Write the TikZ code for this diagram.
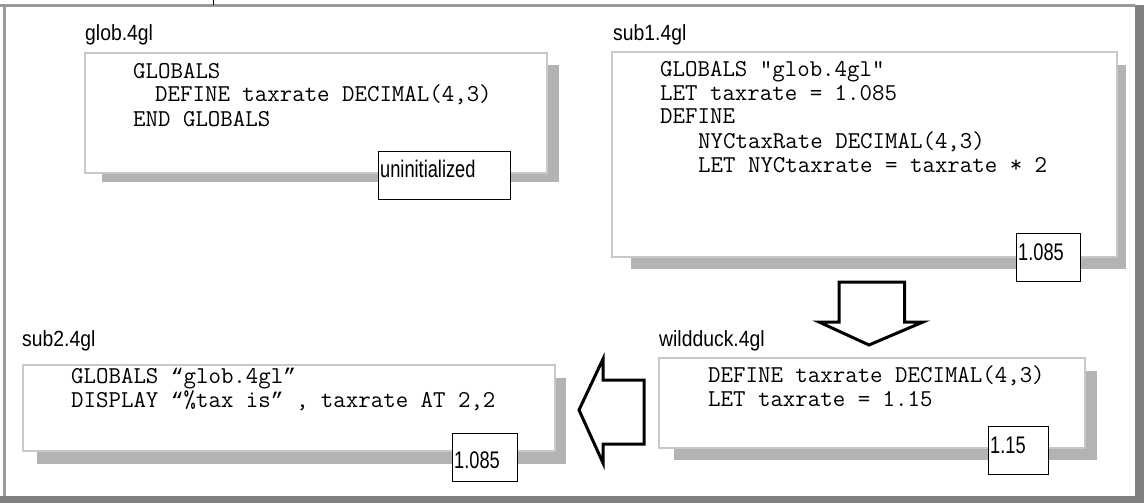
\documentclass[tikz,border=0pt]{standalone}
\usepackage{fontspec}
\newfontfamily\labfont[FakeStretch=0.88]{Liberation Sans}
\newfontfamily\valfont[FakeStretch=0.76]{Liberation Sans}
\newfontfamily\quotefont{Liberation Mono}
\newcommand\myoq{{\quotefont\fontsize{21.2}{24}\selectfont “}}
\newcommand\mycq{{\quotefont\fontsize{21.2}{24}\selectfont ”}}
\definecolor{shadowgray}{HTML}{B3B3B3}
\definecolor{boxgray}{HTML}{C8C8C8}
\definecolor{framegray}{HTML}{808080}
\definecolor{framelight}{HTML}{9A9A9A}
\begin{document}
\begin{tikzpicture}[x=1pt,y=-1pt,
 shadowrect/.style={fill=shadowgray,draw=none},
 filebox/.style={draw=boxgray,line width=1.5pt,fill=white},
 valbox/.style={draw=black,line width=1.2pt,fill=white,inner sep=0pt,anchor=north west},
 codetxt/.style={anchor=base west,inner sep=0pt,font=\ttfamily\fontsize{24.2}{24}\selectfont},
 labtxt/.style={anchor=base west,inner sep=0pt,font=\labfont\fontsize{22}{26}\selectfont},
 valtxt/.style={anchor=base west,inner sep=0pt,font=\valfont\fontsize{24}{28}\selectfont},
 blockarrow/.style={draw=black,line width=3pt,fill=white,line join=miter}]
\useasboundingbox (0,0) rectangle (1144,503);
% outer frame
\fill[framegray] (1135,5) rectangle (1144,503);
\fill[framegray] (0,496) rectangle (1144,503);
\draw[framelight,line width=2.5pt] (0,5.5) -- (1135,5.5);
\draw[framelight,line width=2.5pt] (4.5,5.5) -- (4.5,496);
\draw[black,line width=0.8pt] (213,0) -- (213,5);

% glob.4gl
\node[labtxt] (globlab) at (85,41) {glob.4gl};
\fill[shadowrect] (102,65) rectangle (559,182);
\draw[filebox] (85,53) rectangle (547,173);
\node[codetxt] (g1) at (133,78) {GLOBALS};
\node[codetxt] (g2) at (155,102) {DEFINE taxrate DECIMAL(4,3)};
\node[codetxt] (g3) at (133,126) {END GLOBALS};
\node[valbox,minimum width=132pt,minimum height=48pt] (gv) at (378,151) {};
\node[valtxt] (gvt) at (380,177) {uninitialized};

% sub1.4gl
\node[labtxt] (s1lab) at (613,41) {sub1.4gl};
\fill[shadowrect] (631,65) rectangle (1126,269);
\draw[filebox] (612,52) rectangle (1117,257);
\node[codetxt] (s1a) at (660,77) {GLOBALS "glob.4gl"};
\node[codetxt] (s1b) at (660,100) {LET taxrate = 1.085};
\node[codetxt] (s1c) at (660,124) {DEFINE};
\node[codetxt] (s1d) at (698,148) {NYCtaxRate DECIMAL(4,3)};
\node[codetxt] (s1e) at (698,172) {LET NYCtaxrate = taxrate * 2};
\node[valbox,minimum width=64pt,minimum height=48pt] (s1v) at (1016,233) {};
\node[valtxt] (s1vt) at (1018,260) {1.085};

% down arrow
\draw[blockarrow] (839,282) -- (904.5,282) -- (904.5,322) -- (923,322) -- (869,345)
  -- (819,322) -- (839,322) -- cycle;

% wildduck.4gl
\node[labtxt] (wdlab) at (659,346) {wildduck.4gl};
\fill[shadowrect] (674,371) rectangle (1097,460);
\draw[filebox] (659,358) rectangle (1085,448);
\node[codetxt] (w1) at (708,382) {DEFINE taxrate DECIMAL(4,3)};
\node[codetxt] (w2) at (708,406) {LET taxrate = 1.15};
\node[valbox,minimum width=60pt,minimum height=48pt] (wv) at (988,426) {};
\node[valtxt] (wvt) at (990,453) {1.15};

% left arrow
\draw[blockarrow] (579,410) -- (603,359) -- (603,380) -- (644,380) -- (644,444)
  -- (603,444) -- (603,463) -- cycle;

% sub2.4gl
\node[labtxt] (s2lab) at (22,346) {sub2.4gl};
\fill[shadowrect] (37,378) rectangle (566,464);
\draw[filebox] (23,365) rectangle (555,451);
\node[codetxt] (s2a) at (71,383) {GLOBALS \myoq glob.4gl\mycq};
\node[codetxt] (s2b) at (71,407) {DISPLAY \myoq\%tax is\mycq\ , taxrate AT 2,2};
\node[valbox,minimum width=65pt,minimum height=48pt] (s2v) at (452,433) {};
\node[valtxt] (s2vt) at (454,468) {1.085};
\end{tikzpicture}
\end{document}
